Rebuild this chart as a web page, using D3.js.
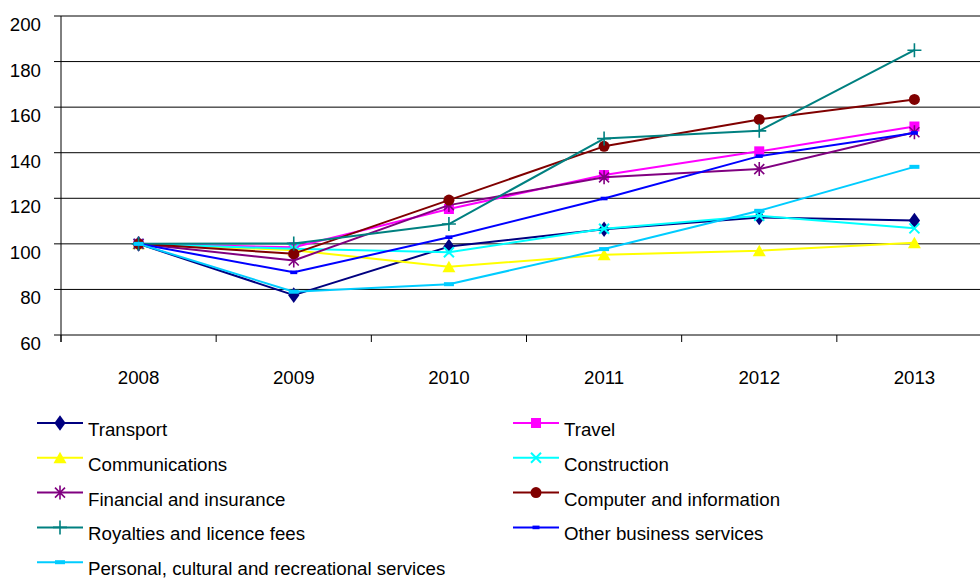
<!DOCTYPE html>
<html>
<head>
<meta charset="utf-8">
<script src="https://cdn.jsdelivr.net/npm/d3@7"></script>
<style>
  html, body { margin: 0; padding: 0; background: #fff; }
  svg { display: block; font-family: "Liberation Sans", Arial, sans-serif; }
</style>
</head>
<body>
<svg id="chart" width="980" height="580"></svg>
<script>
// Services trade indices, 2008 = 100
const years = ["2008", "2009", "2010", "2011", "2012", "2013"];
const yTicks = [60, 80, 100, 120, 140, 160, 180, 200];

const seriesNames = [
  "Transport", "Travel", "Communications", "Construction",
  "Financial and insurance", "Computer and information",
  "Royalties and licence fees", "Other business services",
  "Personal, cultural and recreational services"
];

const transport      = [100, 77.5, 98.8, 106.4, 111.6, 110.2];
const travel         = [100, 98.5, 115.3, 130.2, 140.6, 151.5];
const communications = [100, 97.2, 90.0, 95.2, 97.0, 100.5];
const construction   = [100, 97.8, 96.3, 106.6, 112.3, 106.8];
const financial      = [100, 92.7, 117.0, 129.2, 132.8, 149.0];
const computer       = [100, 95.7, 119.2, 142.8, 154.6, 163.4];
const royalties      = [100, 100.2, 108.7, 146.2, 149.6, 185.0];
const otherBusiness  = [100, 87.5, 102.9, 119.9, 138.5, 148.7];
const personal       = [100, 79.0, 82.3, 97.7, 114.5, 133.8];

const seriesValues = [transport, travel, communications, construction,
  financial, computer, royalties, otherBusiness, personal];

const colors = ["#000080", "#ff00ff", "#ffff00", "#00ffff",
  "#800080", "#800000", "#008080", "#0000ff", "#00ccff"];
const markers = ["diamond", "square", "triangle", "x",
  "star", "circle", "plus", "dashSmall", "dash"];

const FONT = 18.7;
const svg = d3.select("#chart");

const x = d3.scalePoint().domain(years).range([61, 992]).padding(0.5);
const y = d3.scaleLinear().domain([60, 200]).range([335, 16]);

// horizontal gridlines with short outer ticks
const grid = svg.append("g");
grid.selectAll("line").data(yTicks).join("line")
  .attr("x1", 54).attr("x2", 980)
  .attr("y1", d => y(d)).attr("y2", d => y(d))
  .attr("stroke", "#000").attr("stroke-width", 1);

// value axis labels
svg.append("g").selectAll("text").data(yTicks).join("text")
  .attr("x", 41).attr("y", d => y(d) + 15)
  .attr("text-anchor", "end")
  .attr("font-size", FONT).attr("fill", "#000")
  .text(d => d);

// vertical axis line
svg.append("line")
  .attr("x1", 61).attr("x2", 61)
  .attr("y1", y(200)).attr("y2", y(60) + 7)
  .attr("stroke", "#000").attr("stroke-width", 1);

// category axis ticks at band boundaries
const step = x.step();
const bounds = d3.range(years.length).map(i => x(years[i]) - step / 2);
svg.append("g").selectAll("line").data(bounds).join("line")
  .attr("x1", d => d).attr("x2", d => d)
  .attr("y1", y(60)).attr("y2", y(60) + 7)
  .attr("stroke", "#000").attr("stroke-width", 1);

svg.append("g").selectAll("text").data(years).join("text")
  .attr("x", d => x(d)).attr("y", 384)
  .attr("text-anchor", "middle")
  .attr("font-size", FONT).attr("fill", "#000")
  .text(d => d);

// marker drawing
function drawMarker(g, type, color) {
  switch (type) {
    case "diamond":
      g.append("path").attr("d", d3.symbol(d3.symbolDiamond, 70)())
        .attr("transform", "scale(1.25,1)").attr("fill", color);
      break;
    case "square":
      g.append("rect").attr("x", -5).attr("y", -5).attr("width", 10).attr("height", 10)
        .attr("fill", color);
      break;
    case "triangle":
      g.append("path").attr("d", "M0,-6L6.5,5.5L-6.5,5.5Z").attr("fill", color);
      break;
    case "circle":
      g.append("circle").attr("r", 5.5).attr("fill", color);
      break;
    case "x":
      g.append("path").attr("d", "M-5,-5L5,5M-5,5L5,-5")
        .attr("stroke", color).attr("stroke-width", 2).attr("fill", "none");
      break;
    case "star":
      g.append("path").attr("d", "M-5,-5L5,5M-5,5L5,-5M0,-7L0,7")
        .attr("stroke", color).attr("stroke-width", 1.6).attr("fill", "none");
      break;
    case "plus":
      g.append("path").attr("d", "M-7,0L7,0M0,-7L0,7")
        .attr("stroke", color).attr("stroke-width", 1.6).attr("fill", "none");
      break;
    case "dash":
      g.append("rect").attr("x", -5).attr("y", -2).attr("width", 10).attr("height", 4)
        .attr("fill", color);
      break;
    case "dashSmall":
      g.append("rect").attr("x", -3.5).attr("y", -1.8).attr("width", 7).attr("height", 3.6)
        .attr("fill", color);
      break;
  }
}

const line = d3.line().x((d, i) => x(years[i])).y(d => y(d));

seriesValues.forEach((vals, s) => {
  const g = svg.append("g");
  g.append("path").datum(vals)
    .attr("d", line)
    .attr("fill", "none")
    .attr("stroke", colors[s])
    .attr("stroke-width", 2)
    .attr("stroke-linejoin", "round");
  vals.forEach((v, i) => {
    const m = g.append("g").attr("transform", `translate(${x(years[i])},${y(v)})`);
    drawMarker(m, markers[s], colors[s]);
  });
});

// legend, two columns filled row by row
const legend = svg.append("g");
seriesNames.forEach((name, s) => {
  const col = s % 2, row = Math.floor(s / 2);
  const lx = col === 0 ? 37 : 513;
  const ly = 423 + row * 34.8;
  const g = legend.append("g");
  g.append("line").attr("x1", lx).attr("x2", lx + 46)
    .attr("y1", ly).attr("y2", ly)
    .attr("stroke", colors[s]).attr("stroke-width", 2);
  const m = g.append("g").attr("transform", `translate(${lx + 23},${ly})`);
  drawMarker(m, markers[s], colors[s]);
  g.append("text").attr("x", lx + 51).attr("y", ly + 13)
    .attr("font-size", FONT).attr("fill", "#000")
    .text(name);
});
</script>
</body>
</html>
